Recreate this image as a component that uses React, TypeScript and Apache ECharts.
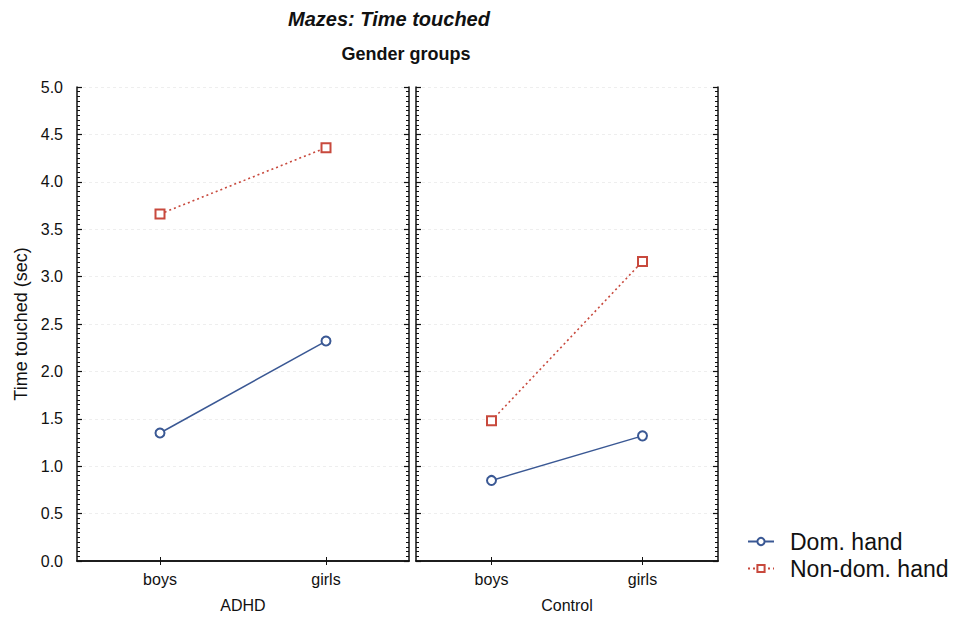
import React, { useEffect, useRef } from "react";
import * as echarts from "echarts";

const categories = ["boys", "girls"];
const panels = ["ADHD", "Control"];
const seriesNames = ["Dom. hand", "Non-dom. hand"];
const adhdDom = [1.35, 2.32];
const adhdNonDom = [3.66, 4.36];
const controlDom = [0.85, 1.32];
const controlNonDom = [1.48, 3.16];

const FONT = "Liberation Sans, Arial, Helvetica, sans-serif";
const BLUE = "#3a5894";
const RED = "#c8493d";

export default function App() {
  const ref = useRef<HTMLDivElement>(null);
  useEffect(() => {
    if (!ref.current) return;
    const chart = echarts.init(ref.current, undefined, { renderer: "svg" });
    const axisLine = { show: true, lineStyle: { color: "#111", width: 1.5 } };
    const yCommon = (gridIndex: number, position: string, labels: boolean, nameStr?: string) => ({
      type: "value",
      gridIndex,
      position,
      min: 0,
      max: 5,
      interval: 0.5,
      name: nameStr,
      nameLocation: "middle",
      nameGap: 47,
      nameTextStyle: { fontFamily: FONT, fontSize: 18, color: "#111" },
      axisLine,
      axisTick: { show: true, inside: true, length: 5, lineStyle: { color: "#111", width: 1.2 } },
      minorTick: { show: true, splitNumber: 10, length: 3, lineStyle: { color: "#111", width: 1 } },
      axisLabel: {
        show: labels,
        formatter: (v: number) => v.toFixed(1),
        fontFamily: FONT,
        fontSize: 16,
        color: "#111",
        margin: 14,
      },
      splitLine: {
        show: position === "left",
        lineStyle: { color: "#eeeeee", type: [3, 3], width: 1 },
      },
    });
    const xBottom = (gridIndex: number, nameStr: string) => ({
      type: "category",
      gridIndex,
      position: "bottom",
      data: categories,
      name: nameStr,
      nameLocation: "middle",
      nameGap: 36,
      nameTextStyle: { fontFamily: FONT, fontSize: 16, color: "#111" },
      axisLine,
      axisTick: { show: true, inside: true, alignWithLabel: true, length: 4, lineStyle: { color: "#111" } },
      axisLabel: { fontFamily: FONT, fontSize: 16, color: "#111", margin: 10 },
      splitLine: { show: false },
    });
    const xTop = (gridIndex: number) => ({
      type: "category",
      gridIndex,
      position: "top",
      data: categories,
      axisLine,
      axisTick: { show: true, inside: true, alignWithLabel: true, length: 4, lineStyle: { color: "#111" } },
      axisLabel: { show: false },
      splitLine: { show: false },
    });
    const mk = (name: string, data: number[], xi: number, yi: number, dom: boolean) => ({
      type: "line",
      name,
      xAxisIndex: xi,
      yAxisIndex: yi,
      data,
      symbol: dom ? "emptyCircle" : "emptyRect",
      symbolSize: 9,
      color: dom ? BLUE : RED,
      lineStyle: dom
        ? { color: BLUE, width: 1.5, type: "solid" }
        : { color: RED, width: 1.6, type: [2, 3] },
      itemStyle: { color: dom ? BLUE : RED, borderWidth: 1.5 },
    });
    chart.setOption({
      animation: false,
      backgroundColor: "#fff",
      title: [
        {
          text: "Mazes: Time touched",
          left: 384,
          top: 4,
          textAlign: "center",
          textStyle: { fontFamily: FONT, fontSize: 20, fontWeight: "bold", fontStyle: "italic", color: "#111" },
        },
        {
          text: "Gender groups",
          left: 401,
          top: 40,
          textAlign: "center",
          textStyle: { fontFamily: FONT, fontSize: 18, fontWeight: "bold", color: "#111" },
        },
      ],
      legend: {
        data: seriesNames,
        orient: "vertical",
        left: 742,
        top: 525,
        itemWidth: 26,
        itemHeight: 9,
        itemGap: 4,
        textStyle: { fontFamily: FONT, fontSize: 23, color: "#111", padding: [0, 0, 0, 11] },
      },
      grid: [
        { left: 77, top: 87, width: 332, height: 474 },
        { left: 416, top: 87, width: 302, height: 474 },
      ],
      xAxis: [xBottom(0, panels[0]), xTop(0), xBottom(1, panels[1]), xTop(1)],
      yAxis: [
        yCommon(0, "left", true, "Time touched (sec)"),
        yCommon(0, "right", false),
        yCommon(1, "left", false),
        yCommon(1, "right", false),
      ],
      series: [
        mk(seriesNames[0], adhdDom, 0, 0, true),
        mk(seriesNames[1], adhdNonDom, 0, 0, false),
        mk(seriesNames[0], controlDom, 2, 2, true),
        mk(seriesNames[1], controlNonDom, 2, 2, false),
      ],
    });
    return () => chart.dispose();
  }, []);
  return (
    <div
      ref={ref}
      style={{ position: "fixed", left: 0, top: 0, width: 980, height: 619, background: "#fff" }}
    />
  );
}
